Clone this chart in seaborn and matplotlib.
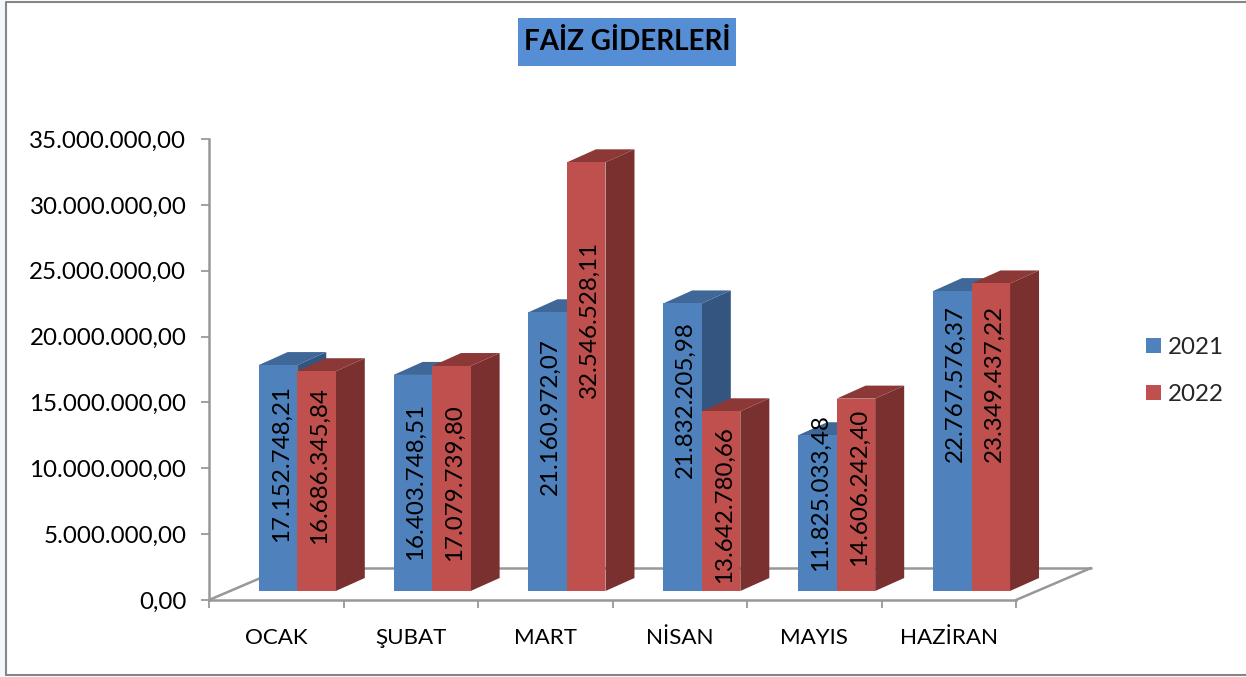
import pandas as pd
import seaborn as sns
import matplotlib.pyplot as plt
from matplotlib.patches import Polygon, Rectangle
from matplotlib.transforms import Affine2D

months = ['OCAK', 'ŞUBAT', 'MART', 'NİSAN', 'MAYIS', 'HAZİRAN']
values_2021 = [17152748.21, 16403748.51, 21160972.07, 21832205.98, 11825033.48, 22767576.37]
values_2022 = [16686345.84, 17079739.80, 32546528.11, 13642780.66, 14606242.40, 23349437.22]
y_ticks = [0, 5000000, 10000000, 15000000, 20000000, 25000000, 30000000, 35000000]

# label centres, picture rows (excel places them oddly)
label_rows_2021 = [463, 481, 417, 400, 493, 383]
label_rows_2022 = [466, 483, 319, 505, 487, 383]

W, H = 1246, 677
AX_L, AX_R, AX_T, AX_B = 209, 1016, 139, 600
font_size = 17.4
grey = '#989898'


def tr_fmt(v):
    return f"{v:,.2f}".replace(',', 'X').replace('.', ',').replace('X', '.')


sns.set_theme(style='white')
plt.rcParams['font.family'] = ['Lato', 'DejaVu Sans']

df = pd.DataFrame({'ay': months, '2021': values_2021, '2022': values_2022})
df_long = df.melt(id_vars='ay', var_name='yil', value_name='tutar')

fig = plt.figure(figsize=(W / 100, H / 100), dpi=100)
ax = fig.add_axes([AX_L / W, 1 - AX_B / H, (AX_R - AX_L) / W, (AX_B - AX_T) / H])
sns.barplot(data=df_long, x='ay', y='tutar', hue='yil', palette=['#4F81BD', '#C0504D'],
            saturation=1, width=0.573, gap=0, linewidth=0, errorbar=None, ax=ax)
ax.set_xlim(-0.5, 5.5)
ax.set_ylim(0, 35000000)
ax.patch.set_alpha(0)

# 3d look: shifted bars with side and top faces
px_x = (AX_R - AX_L) / 6
px_y = (AX_B - AX_T) / 35000000
dx, dy = 29 / px_x, 13 / px_y
faces = [('#34557F', '#3F6797'), ('#7A302E', '#8C3836')]
rows = [label_rows_2021, label_rows_2022]

for s, cont in enumerate(ax.containers):
    base = 2 + 2 * s
    for i, bar in enumerate(cont):
        x0, w, h = bar.get_x(), bar.get_width(), bar.get_height()
        x1 = x0 + w
        shift = 21 + 0.35 * i  # bars are spaced a touch wider than the ticks
        bar_tr = ax.transData + Affine2D().translate(shift, 9)
        bar.set_transform(bar_tr)
        bar.set_zorder(base + 1)
        side = [(x1, 0), (x1 + dx, dy), (x1 + dx, h + dy), (x1, h)]
        top = [(x0, h), (x0 + dx, h + dy), (x1 + dx, h + dy), (x1, h)]
        ax.add_patch(Polygon(side, fc=faces[s][0], ec='none', transform=bar_tr, zorder=base, clip_on=False))
        ax.add_patch(Polygon(top, fc=faces[s][1], ec='none', transform=bar_tr, zorder=base, clip_on=False))
        ax.text(x0 + w / 2 + (3 + shift) / px_x, (AX_B - rows[s][i]) / px_y, tr_fmt(h), rotation=90,
                ha='center', va='center', fontsize=font_size, color='black', zorder=10, clip_on=False)

# floor
fx, fy = 75 / (AX_R - AX_L), 32 / (AX_B - AX_T)
for xs, ys in [([0, fx], [0, fy]), ([1, 1 + fx], [0, fy]), ([fx, 1 + fx], [fy, fy])]:
    ax.plot(xs, ys, color=grey, lw=1.8, transform=ax.transAxes, clip_on=False, zorder=1)

sns.despine(ax=ax, top=True, right=True)
for sp in ['left', 'bottom']:
    ax.spines[sp].set_color(grey)
    ax.spines[sp].set_linewidth(1.8)

ax.set_yticks(y_ticks, labels=[tr_fmt(v) for v in y_ticks])
ax.set_xticks([i - 0.5 for i in range(7)], labels=[''] * 7)
ax.set_xticks(range(6), labels=months, minor=True)
ax.tick_params(axis='both', which='major', length=5.8, width=1.3, color=grey, left=True, bottom=True)
ax.tick_params(axis='y', labelsize=font_size, labelcolor='black', pad=10.5)
ax.tick_params(axis='x', which='minor', length=0, labelsize=16.1, labelcolor='black', pad=20)
ax.set_xlabel(None)
ax.set_ylabel(None)

# legend
sns.move_legend(ax, 'center left', bbox_to_anchor=(1146 / W, 1 - 371 / H), bbox_transform=fig.transFigure,
                title=None, frameon=False, fontsize=font_size, handlelength=0.6, handleheight=0.6,
                handletextpad=0.3, labelspacing=1.1, borderpad=0, borderaxespad=0)

# title box
fig.add_artist(Rectangle((518 / W, 1 - 66 / H), 218 / W, 48 / H, fc='#558ED5', ec='none', transform=fig.transFigure))
fig.text(627 / W, 1 - 42 / H, 'FAİZ GİDERLERİ', ha='center', va='center', fontsize=20, fontweight='bold', color='black')

# chart frame, no right edge in the picture
fig.add_artist(Rectangle((0, 0), 6 / W, 1, fc='#F2F7FB', ec='none', transform=fig.transFigure))
fig.add_artist(plt.Line2D([6 / W, 6 / W, 1], [1 - 675 / H, 1 - 2 / H, 1 - 2 / H], color='#868686', lw=1.5))
fig.add_artist(plt.Line2D([6 / W, 1], [1 - 675 / H, 1 - 675 / H], color='#868686', lw=1.5))

fig.savefig('out.png', dpi=100)
plt.close()
